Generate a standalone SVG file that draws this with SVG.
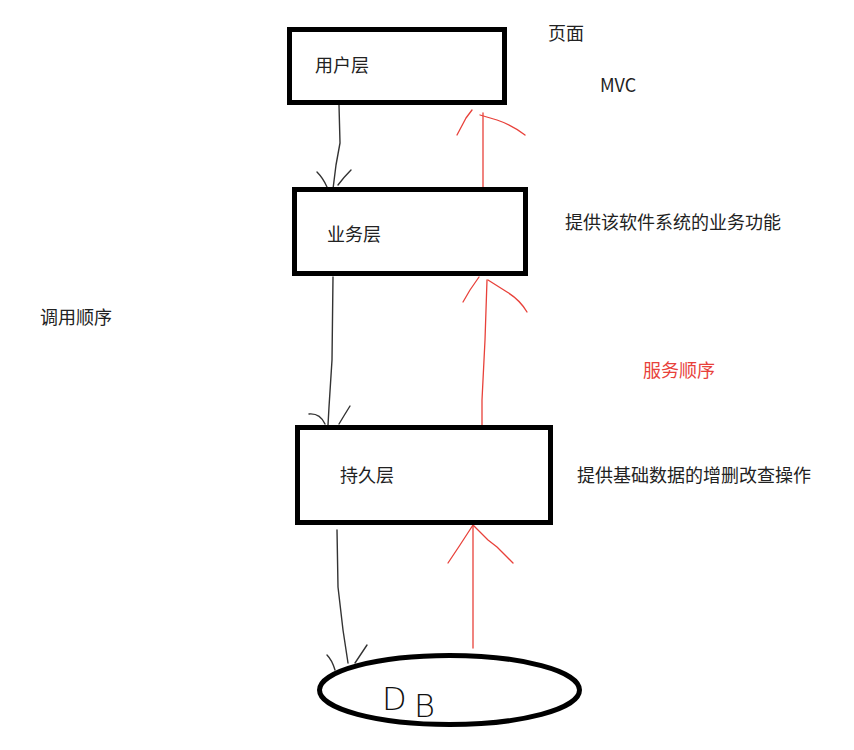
<svg xmlns="http://www.w3.org/2000/svg" width="854" height="750" viewBox="0 0 854 750">
<style>
.box{fill:#fff;stroke:#000;stroke-width:5}
.t{font-family:"Noto Sans CJK SC","Liberation Sans",sans-serif;font-size:18px;fill:#222}
.red{fill:#e8413a}
.bk{fill:none;stroke:#333;stroke-width:1.4;stroke-linecap:round;stroke-linejoin:round}
.rd{fill:none;stroke:#e8413a;stroke-width:1.3;stroke-linecap:round;stroke-linejoin:round}
</style>
<rect width="854" height="750" fill="#fff"/>
<g id="connectors">
  <path class="bk" d="M339,105 L340,143 L336,165 L333,189"/>
  <path class="bk" d="M317,172 Q323,178 327,187 M351,170 Q344,177 338,185"/>
  <path class="bk" d="M333,277 L332,360 L329,407 L328,425"/>
  <path class="bk" d="M309,414 Q320,413 325,424 M350,406 Q345,414 339,424"/>
  <path class="bk" d="M337,530 L338,587 L343,630 L348,663"/>
  <path class="bk" d="M327,655 Q332,660 335,670 M367,645 Q361,654 355,663"/>
  <path class="rd" d="M483,192 L483,113"/>
  <path class="rd" d="M457,135 L466,118 L472,110 M480,115 L497,120 Q512,125 525,135"/>
  <path class="rd" d="M482,427 L482,400 L485,340 L487,280"/>
  <path class="rd" d="M463,302 L470,290 L479,277 M488,280 L507,292 Q520,300 527,312"/>
  <path class="rd" d="M473,648 L473,525"/>
  <path class="rd" d="M448,563 L460,545 L473,525 L488,540 L497,547 L513,563"/>
</g>
<g id="node-user">
  <rect class="box" x="289.5" y="29.5" width="215" height="73"/>
  <text class="t" x="315" y="72">用户层</text>
</g>
<g id="node-business">
  <rect class="box" x="294.5" y="189.5" width="231" height="84"/>
  <text class="t" x="327" y="241">业务层</text>
</g>
<g id="node-persist">
  <rect class="box" x="297.5" y="427.5" width="253" height="95"/>
  <text class="t" x="340" y="482">持久层</text>
</g>
<g id="node-db">
  <ellipse cx="449.5" cy="690" rx="130" ry="34.5" fill="#fff" stroke="#000" stroke-width="5"/>
  <text x="382" y="710" font-family="DejaVu Sans,sans-serif" font-weight="200" font-size="32" fill="#111"><tspan>D</tspan><tspan x="414" y="717">B</tspan></text>
</g>
<g id="labels">
  <text class="t" x="548" y="40">页面</text>
  <text class="t" x="600" y="92" font-family="Liberation Sans,sans-serif">MVC</text>
  <text class="t" x="565" y="229">提供该软件系统的业务功能</text>
  <text class="t" x="40" y="324">调用顺序</text>
  <text class="t red" x="643" y="377">服务顺序</text>
  <text class="t" x="577" y="482">提供基础数据的增删改查操作</text>
</g>
</svg>
